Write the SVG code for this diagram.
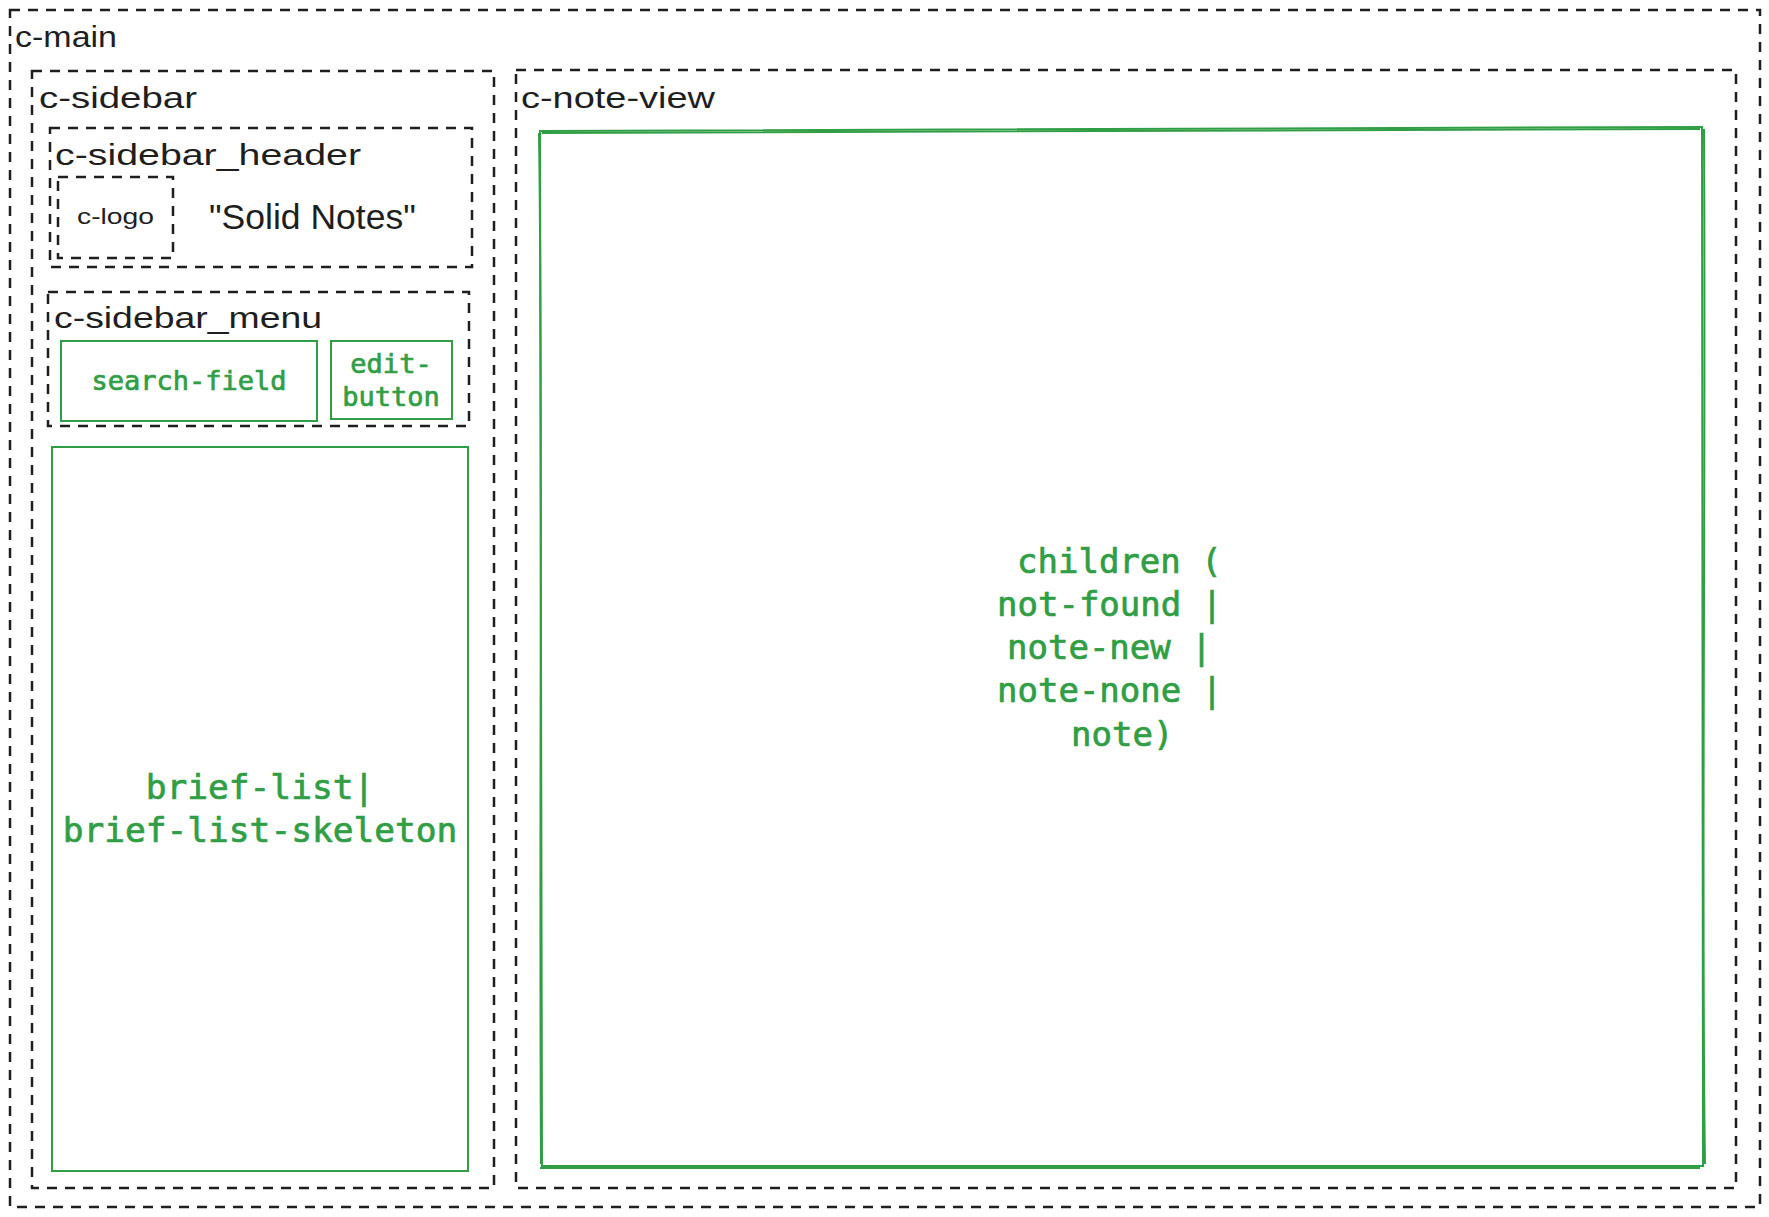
<svg xmlns="http://www.w3.org/2000/svg" width="1769" height="1217" viewBox="0 0 1769 1217">
<style>
.dash{fill:none;stroke:#1e1e1e;stroke-width:2.5;stroke-dasharray:10 8}
.grn{fill:none;stroke:#2f9e44;stroke-width:2}
.lbl{font-family:"Liberation Sans",Arial,sans-serif;font-size:30px;fill:#1e1e1e}
.mono{font-family:"DejaVu Sans Mono","Liberation Mono",monospace;fill:#2f9e44;stroke:#2f9e44;stroke-width:0.7}
.arial{font-family:"Liberation Sans",Arial,sans-serif;fill:#1e1e1e}
</style>
<rect width="1769" height="1217" fill="#ffffff"/>
<g id="c-main">
<rect class="dash" x="10" y="10" width="1750" height="1197"/>
<text class="lbl" x="15" y="47" textLength="102" lengthAdjust="spacingAndGlyphs">c-main</text>
</g>
<g id="c-sidebar">
<rect class="dash" x="32" y="71" width="462" height="1117"/>
<text class="lbl" x="39" y="108" textLength="158" lengthAdjust="spacingAndGlyphs">c-sidebar</text>
</g>
<g id="c-sidebar_header">
<rect class="dash" x="50" y="128" width="422" height="139"/>
<text class="lbl" x="55" y="165" textLength="306" lengthAdjust="spacingAndGlyphs">c-sidebar_header</text>
</g>
<g id="c-logo">
<rect class="dash" x="58" y="177" width="115" height="81"/>
<text class="lbl" x="77" y="224" style="font-size:22px" textLength="77" lengthAdjust="spacingAndGlyphs">c-logo</text>
</g>
<g id="solid-notes">
<text class="arial" x="209" y="229" style="font-size:35.5px">"Solid Notes"</text>
</g>
<g id="c-sidebar_menu">
<rect class="dash" x="48" y="292" width="421" height="134"/>
<text class="lbl" x="54" y="328" textLength="268" lengthAdjust="spacingAndGlyphs">c-sidebar_menu</text>
</g>
<g id="search-field">
<rect class="grn" x="61" y="341" width="256" height="80"/>
<text class="mono" x="189" y="390" text-anchor="middle" style="font-size:27px">search-field</text>
</g>
<g id="edit-button">
<rect class="grn" x="331" y="341" width="121" height="78"/>
<text class="mono" x="391" y="373" text-anchor="middle" style="font-size:27px">edit-</text>
<text class="mono" x="391" y="406" text-anchor="middle" style="font-size:27px">button</text>
</g>
<g id="brief-list">
<rect class="grn" x="52" y="447" width="416" height="724"/>
<text class="mono" x="260" y="799" text-anchor="middle" style="font-size:34.5px">brief-list|</text>
<text class="mono" x="260" y="842" text-anchor="middle" style="font-size:34.5px">brief-list-skeleton</text>
</g>
<g id="c-note-view">
<rect class="dash" x="516" y="70" width="1220" height="1118"/>
<text class="lbl" x="521" y="108" textLength="194" lengthAdjust="spacingAndGlyphs">c-note-view</text>
</g>
<g id="children">
<path class="grn" d="M540 131 L1702 127 L1703 1166 L542 1166 Z"/>
<path class="grn" d="M542 133 C900 134 1300 128 1700 129 M1704 129 C1706 500 1701 900 1705 1164 M1700 1168 C1300 1166 900 1170 540 1168 M541 1164 C539 800 543 400 539 133" stroke-width="1.4"/>
<text class="mono" x="1017" y="573" style="font-size:34px">children (</text>
<text class="mono" x="997" y="616" style="font-size:34px">not-found |</text>
<text class="mono" x="1007" y="659" style="font-size:34px">note-new |</text>
<text class="mono" x="997" y="702" style="font-size:34px">note-none |</text>
<text class="mono" x="1071" y="746" style="font-size:34px">note)</text>
</g>
<g id="connectors"/>
</svg>
